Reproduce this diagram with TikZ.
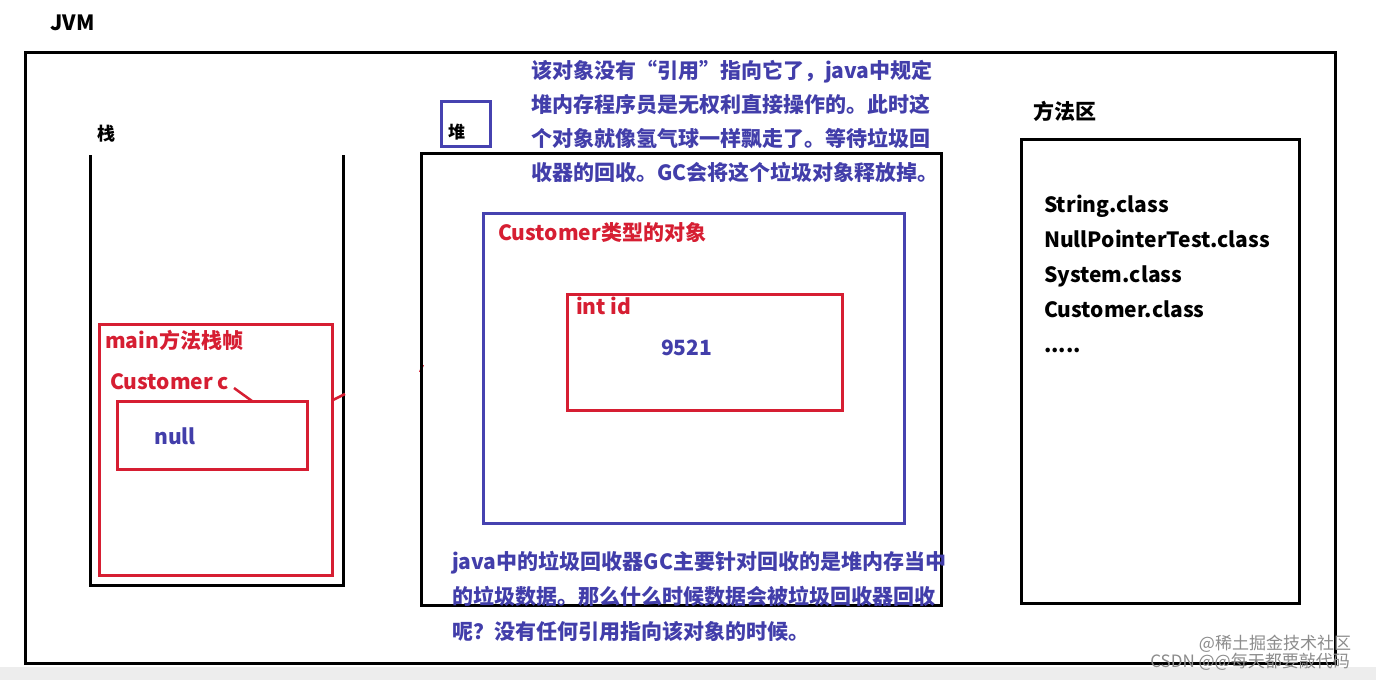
\documentclass[tikz,border=0pt]{standalone}
\usepackage{fontspec}
\setmainfont{Noto Sans CJK SC}
\usepackage{tikz}
\usetikzlibrary{positioning}
\definecolor{jvmred}{RGB}{214,30,50}
\definecolor{jvmblue}{RGB}{66,62,170}
\definecolor{boxblue}{RGB}{70,66,176}
\tikzset{
    blackbox/.style={draw=black, line width=3pt, inner sep=0pt},
    redbox/.style={draw=jvmred, line width=3pt, inner sep=0pt},
    bluebox/.style={draw=boxblue, line width=3pt, inner sep=0pt},
    % 文字样式
    textbase/.style={font=\fontsize{21}{24}\selectfont\bfseries, inner sep=0pt, anchor=west,
                     text height=19pt, text depth=3pt},
    blacktext/.style={textbase, text=black},
    redtext/.style={textbase, text=jvmred},
    bluetext/.style={textbase, text=jvmblue},
    marktext/.style={font=\fontsize{17}{20}\selectfont, text=black!45, inner sep=0pt}
}

\begin{document}
\begin{tikzpicture}[x=1pt, y=-1pt]
    \useasboundingbox (0,0) rectangle (1376,680);
    \fill[white] (0,0) rectangle (1376,680);
    \fill[black!7] (0,667) rectangle (1376,680);

    % JVM 外框
    \node[blackbox, minimum width=1310, minimum height=611] (jvm) at (680,357.5) {};
    \node[blacktext] (jvmlabel) at (50,22) {JVM};

    % 栈
    \node[blacktext, font=\fontsize{18}{20}\selectfont\bfseries] (stacklabel) at (97,132) {栈};
    \draw[line width=3pt] (90,155) coordinate (s1) -- (90,585) -- (343,585) -- (343,155) coordinate (s2);
    \node[redbox, minimum width=233, minimum height=251] (frame) at (215.5,449.5) {};
    \node[redtext] (framelabel) at (105,340) {main方法栈帧};
    \node[redtext] (custc) at (110,381) {Customer c};
    \node[redbox, minimum width=190, minimum height=68] (ref) at (212,435) {};
    \node[bluetext] (nullval) at (154,436) {null};
    \coordinate (reftop) at (252,401);
    \draw[jvmred, line width=2.5pt] (234,388) -- (reftop);
    \draw[jvmred, line width=2.5pt] (333,400) -- (345,394);
    \draw[jvmred, line width=2pt] (420,372) -- (423,365);

    % 堆
    \node[bluebox, minimum width=49, minimum height=45] (heaplabel) at (465.5,123.5) {};
    \node[blacktext, font=\fontsize{17}{20}\selectfont\bfseries] at (448,130) {堆};
    \node[blackbox, minimum width=520, minimum height=452] (heap) at (681,379) {};
    \node[bluebox, minimum width=421, minimum height=310] (obj) at (693.5,368) {};
    \node[redtext] (objlabel) at (498,232) {Customer类型的对象};
    \node[redbox, minimum width=275, minimum height=116] (idbox) at (704.5,352) {};
    \node[redtext] (idlabel) at (576,306) {int id};
    \node[bluetext] (idval) at (661,347) {9521};

    \foreach \y/\t in {70/{该对象没有“引用”指向它了，java中规定},
                       104/{堆内存程序员是无权利直接操作的。此时这},
                       138/{个对象就像氢气球一样飘走了。等待垃圾回},
                       172/{收器的回收。GC会将这个垃圾对象释放掉。}}
        \node[bluetext] at (531,\y) {\t};

    \foreach \y/\t in {561/{java中的垃圾回收器GC主要针对回收的是堆内存当中},
                       596/{的垃圾数据。那么什么时候数据会被垃圾回收器回收},
                       631/{呢？没有任何引用指向该对象的时候。}}
        \node[bluetext] at (452,\y) {\t};

    % 方法区
    \node[blacktext] (methodlabel) at (1033,111) {方法区};
    \node[blackbox, minimum width=278, minimum height=464] (method) at (1160,371) {};
    \foreach \y/\t in {204/String.class, 239/NullPointerTest.class,
                       274/System.class, 309/Customer.class}
        \node[blacktext] at (1044,\y) {\t};
    \node[blacktext] (more) at (1044,344) {.....};

    % 水印
    \node[marktext] (mark1) at (1275,644) {@稀土掘金技术社区};
    \node[marktext] (mark2) at (1250,662) {CSDN @@每天都要敲代码};
\end{tikzpicture}
\end{document}
